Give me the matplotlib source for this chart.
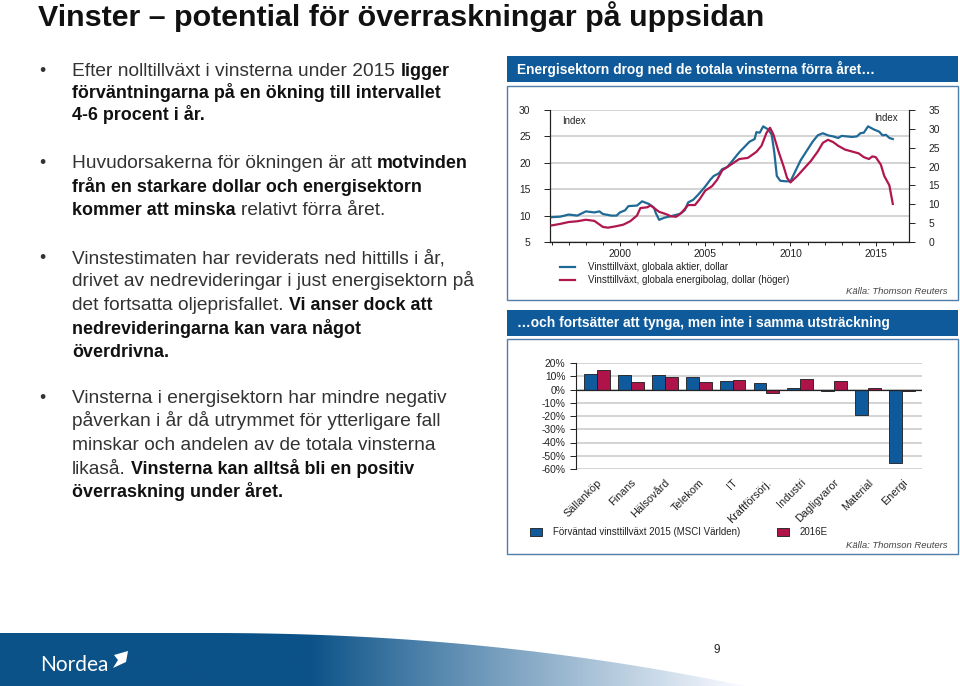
import matplotlib
matplotlib.use('Agg')
import matplotlib.pyplot as plt
import numpy as np
from matplotlib.patches import Rectangle, Polygon

plt.rcParams['font.family'] = ['Liberation Sans', 'DejaVu Sans']

# ---------------- data ----------------
years_all = [1996.0, 1996.5, 1997.0, 1997.5, 1998.0, 1998.5, 1998.8, 1999.0, 1999.5, 1999.8,
             2000.0, 2000.3, 2000.5, 2001.0, 2001.3, 2001.7, 2002.0, 2002.1, 2002.3, 2002.6,
             2003.0, 2003.5, 2003.8, 2004.0, 2004.3, 2004.6, 2005.0, 2005.3, 2005.5, 2005.8,
             2006.0, 2006.3, 2006.5, 2007.0, 2007.3, 2007.6, 2007.9, 2008.0, 2008.2, 2008.4,
             2008.7, 2008.9, 2009.05, 2009.2, 2009.4, 2009.7, 2010.0, 2010.3, 2010.6, 2011.0,
             2011.3, 2011.6, 2011.9, 2012.2, 2012.5, 2012.8, 2013.0, 2013.3, 2013.6, 2013.9,
             2014.1, 2014.3, 2014.55, 2014.9, 2015.2, 2015.4, 2015.6, 2015.8, 2016.0]
idx_all = [9.7, 9.8, 10.2, 10.0, 10.8, 10.6, 10.8, 10.3, 10.0, 10.0,
           10.6, 11.0, 11.8, 11.9, 12.7, 12.2, 11.5, 10.5, 9.2, 9.6,
           9.9, 10.3, 11.0, 12.5, 13.0, 14.0, 15.5, 16.8, 17.5, 18.0,
           18.8, 19.2, 20.0, 22.0, 23.0, 24.0, 24.5, 25.8, 25.7, 26.9,
           26.3, 25.3, 22.0, 17.5, 16.6, 16.5, 16.5, 18.5, 20.5, 22.5,
           24.0, 25.2, 25.6, 25.2, 25.0, 24.7, 25.1, 25.0, 24.9, 25.0,
           25.6, 25.7, 26.9, 26.3, 25.9, 25.2, 25.3, 24.7, 24.5]

years_energy = [1996.0, 1996.5, 1997.0, 1997.5, 1998.0, 1998.5, 1999.0, 1999.3, 1999.8, 2000.2,
                2000.6, 2001.0, 2001.2, 2001.6, 2001.8, 2002.0, 2002.3, 2002.7, 2003.0, 2003.3,
                2003.6, 2004.0, 2004.4, 2004.7, 2005.0, 2005.4, 2005.7, 2006.0, 2006.5, 2007.0,
                2007.5, 2008.0, 2008.3, 2008.6, 2008.8, 2009.0, 2009.3, 2009.6, 2009.8, 2010.0,
                2010.4, 2010.8, 2011.2, 2011.6, 2011.9, 2012.2, 2012.5, 2012.8, 2013.2, 2013.6,
                2014.0, 2014.3, 2014.6, 2014.8, 2015.0, 2015.3, 2015.5, 2015.8, 2016.0]
idx_energy = [4.4, 4.8, 5.3, 5.5, 5.9, 5.6, 4.0, 3.8, 4.2, 4.6,
              5.5, 7.0, 9.0, 9.2, 9.7, 9.0, 8.0, 7.4, 6.8, 6.7,
              7.7, 9.8, 9.8, 11.5, 13.6, 14.8, 16.5, 19.0, 20.5, 22.0,
              22.3, 23.9, 25.5, 29.0, 30.3, 28.5, 24.0, 20.0, 17.0, 15.8,
              17.5, 19.5, 21.5, 24.0, 26.3, 27.1, 26.5, 25.5, 24.5, 24.0,
              23.5, 22.5, 22.0, 22.7, 22.5, 20.5, 17.5, 15.0, 10.1]

left_ticks = [5, 10, 15, 20, 25, 30]
right_ticks = [0, 5, 10, 15, 20, 25, 30, 35]
year_ticks = [2000, 2005, 2010, 2015]

sectors = ['Sällanköp', 'Finans', 'Hälsovård', 'Telekom', 'IT', 'Kraftförsörj.',
           'Industri', 'Dagligvaror', 'Material', 'Energi']
growth_2015 = [11.6, 10.6, 10.6, 9.1, 6.6, 4.8, 1.0, -1.3, -18.9, -55.3]
growth_2016 = [14.6, 5.6, 9.1, 5.6, 7.3, -2.3, 7.8, 6.6, 1.0, -1.3]
pct_ticks = [-60, -50, -40, -30, -20, -10, 0, 10, 20]

# ---------------- styling ----------------
W, H = 960, 686
HEAD_BLUE = '#0F5A9A'
LINE_BLUE = '#1F6A96'
LINE_RED = '#B0174E'
BAR_BLUE = '#0F5A9C'
BAR_RED = '#AE1449'
BOX_EDGE = '#4F7FA8'
GRID = '#c8c8c8'
TXT = '#222222'
SMALL = 7.0

fig = plt.figure(figsize=(9.6, 6.86), dpi=100)
fig.patch.set_facecolor('white')
bg = fig.add_axes([0, 0, 1, 1])
bg.set_xlim(0, W)
bg.set_ylim(H, 0)
bg.axis('off')
renderer = fig.canvas.get_renderer()


def fax(l, t, r, b):
    return fig.add_axes([l / W, 1 - b / H, (r - l) / W, (b - t) / H])


def width_of(txt, **kw):
    t = bg.text(0, 0, txt, **kw)
    w = t.get_window_extent(renderer).width
    t.remove()
    return w


# ---------------- footer swoosh ----------------
xs = np.linspace(0, 745, 150)
tt = xs / 745.0
top_y = 633 + 53 * np.clip((tt - 0.28) / 0.72, 0, 1) ** 2.1
verts = list(zip(xs, top_y)) + [(745, H), (0, H)]
poly = Polygon(verts, closed=True, facecolor='none', edgecolor='none', transform=bg.transData)
bg.add_patch(poly)
gx = np.linspace(0, 1, 500)
g = np.clip((gx * 745 - 310) / 430, 0, 1) ** 0.95
dark = np.array([0x0B, 0x52, 0x88]) / 255.0
light = np.array([0.97, 0.98, 1.0])
img = dark[None, None, :] * (1 - g[None, :, None]) + light[None, None, :] * g[None, :, None]
im = bg.imshow(img, extent=(0, 745, H, 628), aspect='auto', interpolation='bilinear', zorder=1)
im.set_clip_path(poly)
bg.set_xlim(0, W)
bg.set_ylim(H, 0)

# Nordea logo
bg.text(40, 665, 'Nordea', color='white', fontsize=15, fontweight='normal', va='center', ha='left', zorder=3,
        family=['Lato', 'Liberation Sans'])
sail = Polygon([(114, 655), (128, 651), (126, 662), (113, 668), (118, 660)], closed=True,
               facecolor='white', edgecolor='none', zorder=3)
bg.add_patch(sail)
bg.text(717, 650, '9', fontsize=8.5, color=TXT, ha='center', va='center')

# ---------------- title & bullets ----------------
bg.text(38, 17, 'Vinster – potential för överraskningar på uppsidan', fontsize=21.9,
        fontweight='bold', color='#111111', va='center', ha='left')

BODY = 13.8
BODY_B = 12.9
space_w = width_of('a a', fontsize=BODY) - width_of('aa', fontsize=BODY)


def rich(x, y, segs):
    cx = x
    for i, (txt, bold) in enumerate(segs):
        if i > 0:
            cx += space_w
        t = bg.text(cx, y, txt, fontsize=BODY_B if bold else BODY,
                    fontweight='bold' if bold else 'normal',
                    color='#111111' if bold else '#333333', va='baseline', ha='left')
        cx = t.get_window_extent(renderer).x1


bullets = [
    (76, 22.0, [[('Efter nolltillväxt i vinsterna under 2015', False), ('ligger', True)],
                [('förväntningarna på en ökning till intervallet', True)],
                [('4-6 procent i år.', True)]]),
    (168, 23.5, [[('Huvudorsakerna för ökningen är att', False), ('motvinden', True)],
                 [('från en starkare dollar och energisektorn', True)],
                 [('kommer att minska', True), ('relativt förra året.', False)]]),
    (263, 23.5, [[('Vinstestimaten har reviderats ned hittills i år,', False)],
                 [('drivet av nedrevideringar i just energisektorn på', False)],
                 [('det fortsatta oljeprisfallet.', False), ('Vi anser dock att', True)],
                 [('nedrevideringarna kan vara något', True)],
                 [('överdrivna.', True)]]),
    (403, 23.5, [[('Vinsterna i energisektorn har mindre negativ', False)],
                 [('påverkan i år då utrymmet för ytterligare fall', False)],
                 [('minskar och andelen av de totala vinsterna', False)],
                 [('likaså.', False), ('Vinsterna kan alltså bli en positiv', True)],
                 [('överraskning under året.', True)]]),
]
for y0, lh, lines in bullets:
    bg.text(39, y0, '•', fontsize=BODY - 1, color='#333333', va='baseline', ha='left')
    for i, segs in enumerate(lines):
        rich(72, y0 + i * lh, segs)

# ---------------- panel headers & boxes ----------------
for (top, htxt, btop, bbot) in [(56, 'Energisektorn drog ned de totala vinsterna förra året…', 86, 300),
                                (310, '…och fortsätter att tynga, men inte i samma utsträckning', 339, 554)]:
    bg.add_patch(Rectangle((507, top), 451, 25.5, facecolor=HEAD_BLUE, edgecolor='none'))
    bg.text(517, top + 13, htxt, color='white', fontsize=9.9, fontweight='bold', va='center', ha='left')
    bg.add_patch(Rectangle((507, btop), 451, bbot - btop, facecolor='none', edgecolor=BOX_EDGE, lw=1.0))
    bg.text(948, bbot - 8, 'Källa: Thomson Reuters', fontsize=6.8, style='italic', color='#444444',
            ha='right', va='center')

# ---------------- line chart ----------------
ax1 = fax(550, 110, 909, 242)
ax1.set_zorder(2)
ax1.set_xlim(1995.9, 2016.95)
ax1.set_ylim(5, 30)
ax1.set_yticks(left_ticks)
ax1.set_xticks(year_ticks)
ax1.set_xticks(range(1996, 2017), minor=True)
ax1.grid(axis='y', color=GRID, lw=1.1, zorder=0)
ax1.set_axisbelow(True)
ax1.plot(years_all, idx_all, color=LINE_BLUE, lw=1.6, zorder=4)
ax2 = ax1.twinx()
ax2.set_ylim(0, 35)
ax2.set_yticks(right_ticks)
ax2.plot(years_energy, idx_energy, color=LINE_RED, lw=1.6, zorder=3)
for a in (ax1, ax2):
    a.patch.set_visible(False)
    a.spines['top'].set_visible(False)
    for s in ('left', 'right', 'bottom'):
        a.spines[s].set_linewidth(0.8)
        a.spines[s].set_color('#222222')
    a.tick_params(axis='both', which='major', labelsize=7.4, colors=TXT, length=4, width=0.7)
    a.tick_params(axis='x', which='major', length=3, pad=2)
    a.tick_params(axis='x', which='minor', length=2, width=0.6)
ax1.tick_params(axis='y', pad=10)
ax2.tick_params(axis='y', pad=10)
ax1.text(0.035, 0.92, 'Index', transform=ax1.transAxes, fontsize=SMALL, color=TXT, va='center')
ax1.text(0.97, 0.94, 'Index', transform=ax1.transAxes, fontsize=SMALL, color=TXT, va='center', ha='right')

# line legend
for yy, lab, col in [(267, 'Vinsttillväxt, globala aktier, dollar', LINE_BLUE),
                     (280, 'Vinsttillväxt, globala energibolag, dollar (höger)', LINE_RED)]:
    bg.plot([560, 575], [yy, yy], color=col, lw=1.6)
    bg.text(588, yy, lab, fontsize=SMALL, color=TXT, va='center', ha='left')

# ---------------- bar chart ----------------
ax3 = fax(576, 363, 922, 469)
xpos = np.arange(len(sectors))
bw = 0.38
ax3.bar(xpos - bw / 2, growth_2015, bw, color=BAR_BLUE, edgecolor='#1b1b1b', lw=0.6, zorder=3)
ax3.bar(xpos + bw / 2, growth_2016, bw, color=BAR_RED, edgecolor='#1b1b1b', lw=0.6, zorder=3)
ax3.set_xlim(-0.62, 9.59)
ax3.set_ylim(-60, 20)
ax3.set_yticks(pct_ticks)
ax3.set_yticklabels([f'{v}%' for v in pct_ticks])
ax3.grid(axis='y', color=GRID, lw=1.1, zorder=0)
ax3.axhline(0, color='#222222', lw=0.9, zorder=4)
ax3.set_xticks(xpos)
ax3.set_xticklabels(sectors, rotation=45, ha='right', va='top', rotation_mode='anchor')
ax3.tick_params(axis='x', length=0, pad=6, labelsize=7.8, colors=TXT)
ax3.tick_params(axis='y', length=4, width=0.7, labelsize=7.4, colors=TXT)
ax3.patch.set_visible(False)
for s in ('top', 'right', 'bottom'):
    ax3.spines[s].set_visible(False)
ax3.spines['left'].set_linewidth(0.8)
ax3.spines['left'].set_color('#222222')

# bar legend
for x0, lab, col in [(530, 'Förväntad vinsttillväxt 2015 (MSCI Världen)', BAR_BLUE),
                     (777, '2016E', BAR_RED)]:
    bg.add_patch(Rectangle((x0, 528), 12, 8, facecolor=col, edgecolor='#1b1b1b', lw=0.6))
    bg.text(x0 + 23, 532, lab, fontsize=SMALL, color=TXT, va='center', ha='left')

fig.savefig('out.png', dpi=100)
